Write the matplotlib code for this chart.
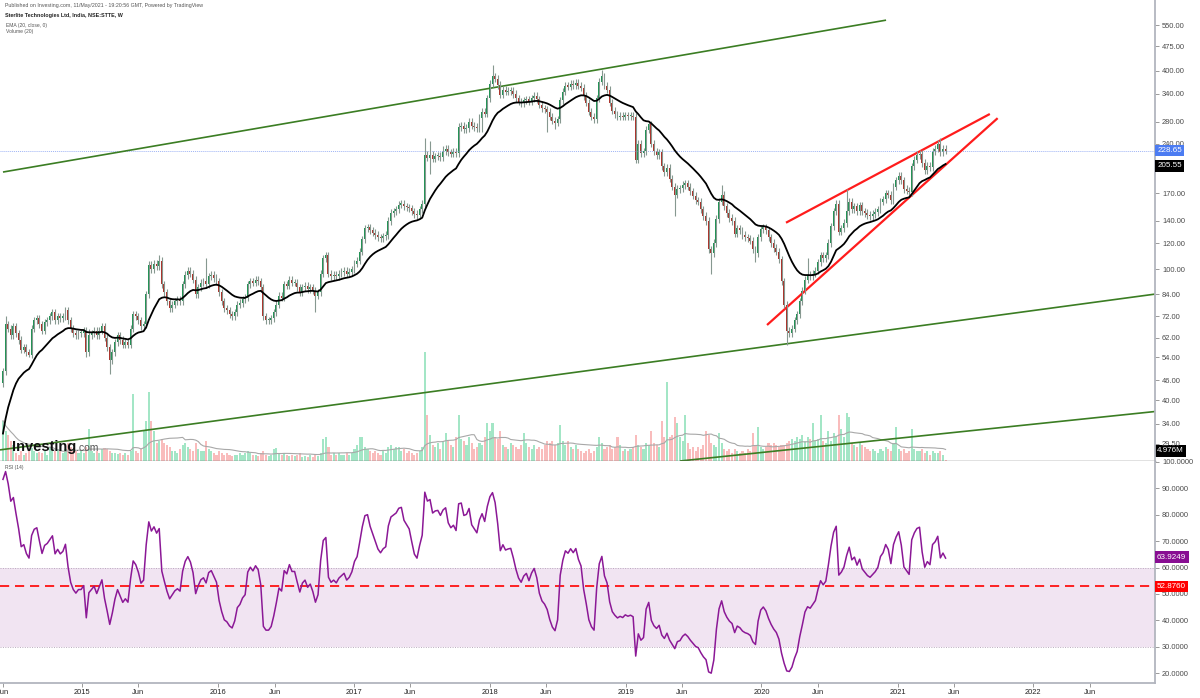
import numpy as np
import pandas as pd
import matplotlib
matplotlib.use('Agg')
import matplotlib.pyplot as plt
import matplotlib.dates as mdates
import matplotlib.transforms as mtransforms
from matplotlib.ticker import FixedLocator, FixedFormatter, NullLocator

plt.rcParams['font.family'] = ['Liberation Sans', 'DejaVu Sans']

# ---------------- data (weekly) ----------------
start_date = '2014-06-02'
# weeks before the visible window (only used to warm up EMA / RSI)
pre_closes = [18, 18.5, 19, 18, 19.5, 20, 19.5, 21, 22, 21.5, 22, 23, 22.5, 24, 25,
              24, 26, 27, 28, 30, 29, 32, 35, 38, 42, 45]

closes = [
    49, 68, 66, 63, 67, 64, 61, 57, 58, 56,
    55, 66, 70, 71, 68, 65, 69, 70, 72, 74,
    70, 72, 71, 72, 75, 70, 66, 64, 63, 64,
    64, 65, 56, 63, 64, 65, 63, 65, 67, 62,
    58, 53, 56, 60, 63, 61, 59, 60, 59, 66,
    73, 72, 70, 67, 68, 84, 103, 100, 104, 102,
    106, 90, 85, 80, 76, 78, 80, 81, 80, 90,
    96, 99, 97, 93, 84, 88, 91, 92, 90, 95,
    96, 94, 92, 85, 80, 76, 75, 73, 72, 74,
    78, 79, 81, 82, 90, 92, 91, 93, 92, 88,
    72, 70, 70, 71, 74, 78, 83, 82, 90, 89,
    93, 91, 91, 88, 85, 88, 89, 87, 88, 86,
    83, 85, 97, 108, 110, 97, 95, 96, 95, 97,
    98, 99, 97, 98, 100, 104, 106, 113, 123, 133,
    134, 131, 129, 127, 125, 124, 126, 127, 140, 148,
    150, 152, 157, 158, 155, 154, 153, 150, 147, 146,
    152, 158, 222, 218, 222, 216, 220, 221, 219, 228,
    232, 226, 224, 227, 225, 270, 272, 266, 268, 280,
    272, 270, 268, 288, 300, 296, 330, 365, 385, 378,
    362, 338, 350, 345, 347, 348, 340, 330, 322, 318,
    325, 328, 322, 330, 335, 328, 315, 308, 305, 300,
    290, 282, 278, 285, 325, 345, 360, 358, 365, 362,
    368, 360, 355, 335, 320, 300, 290, 285, 330, 370,
    385, 360, 350, 320, 302, 295, 290, 292, 290, 293,
    291, 292, 290, 215, 240, 225, 228, 265, 275, 240,
    228, 222, 226, 205, 197, 203, 188, 178, 168, 175,
    176, 180, 182, 178, 172, 167, 162, 160, 152, 145,
    140, 115, 112, 120, 142, 160, 168, 155, 148, 143,
    140, 128, 133, 131, 127, 125, 124, 122, 115, 112,
    125, 132, 134, 131, 125, 120, 116, 113, 107, 92,
    78, 65, 64, 66, 70, 73, 80, 86, 93, 96,
    95, 97, 99, 105, 110, 108, 110, 120, 135, 150,
    158, 130, 133, 138, 150, 160, 152, 155, 150, 156,
    150, 148, 146, 145, 147, 149, 152, 160, 163, 170,
    168, 162, 178, 186, 192, 186, 175, 173, 171, 205,
    215, 222, 224, 210, 200, 206, 204, 228, 232, 240,
    226, 232, 228.65]

# volume in millions
volumes = [
    20, 15, 13, 10, 8, 4, 3, 5, 3, 4,
    6, 6.5, 5, 4, 4.5, 4, 5, 3, 7, 5,
    5, 6, 5, 4, 6, 9, 7, 6, 5, 4,
    5, 4, 7, 16, 5, 4, 5, 4, 6, 6.5,
    6, 5, 4, 4, 3.5, 4, 3, 4, 3, 5,
    33, 5, 4, 6, 15, 20, 34, 20, 15, 9,
    10, 11, 9, 8, 7, 5, 5, 4, 6, 8,
    9, 7, 6, 5, 9, 6, 5, 5, 10, 6,
    5, 4, 3, 5, 4, 3, 4, 3, 2.5, 3,
    3, 4, 3, 4, 5, 4, 3, 3, 2.5, 4,
    5, 3, 2.5, 3, 6, 6.5, 4, 3, 4, 3,
    2.5, 3, 2.5, 3, 4, 2, 2.5, 2, 3, 2,
    3, 2.5, 4, 11, 12, 7, 3, 4, 3, 4,
    3, 3, 4, 3, 4, 6, 8, 12, 12, 7,
    6, 5, 4, 5, 4, 3, 5, 4, 7, 8,
    6, 7, 7, 5, 6, 4, 5, 4, 3, 4,
    5, 7, 54, 23, 13, 8, 7, 9, 6, 10,
    14, 10, 8, 7, 12, 23, 11, 10, 8, 12,
    9, 6, 7, 9, 8, 12, 19, 15, 19, 12,
    11, 15, 8, 7, 6, 9, 8, 7, 6, 8,
    14, 9, 7, 6, 8, 6, 7, 6, 8, 10,
    9, 10, 8, 9, 18, 10, 8, 10, 7, 6,
    8, 6, 5, 4, 5, 6, 4, 5, 7, 12,
    9, 6, 7, 8, 6, 7, 12, 8, 5, 6,
    5, 6, 7, 13, 8, 7, 6, 9, 8, 15,
    9, 8, 7, 20, 12, 39, 12, 13, 22, 19,
    12, 10, 23, 9, 6, 7, 5, 7, 6, 8,
    15, 13, 9, 8, 7, 14, 9, 6, 5, 6,
    4, 6, 5, 4, 5, 4, 6, 5, 14, 8,
    17, 7, 6, 7, 9, 8, 9, 8, 7, 8,
    8, 9, 10, 11, 10, 12, 11, 13, 10, 12,
    11, 19, 10, 11, 23, 10, 9, 15, 10, 14,
    12, 23, 16, 12, 24, 22, 9, 8, 7, 9,
    8, 7, 6, 5, 6, 5, 4, 6, 5, 7,
    6, 5, 9, 17, 6, 5, 6, 4, 5, 16,
    6, 5, 5, 6, 4, 5, 3, 5, 4, 4,
    5, 3, 0.5]

# notable wicks (week index -> price)
high_wicks = {1: 72, 33: 66, 60: 110, 78: 108, 162: 250, 164: 245, 169: 236,
              188: 415, 230: 402, 276: 180, 309: 108, 320: 162, 324: 175, 360: 250}
low_wicks = {10: 54, 32: 54, 41: 48, 120: 74, 164: 195, 184: 260, 209: 260,
             212: 266, 258: 145, 272: 97, 289: 105, 301: 59}

# drawn trend lines: (date, price)
green_top = [('2014-06-02', 197.0), ('2020-12-01', 569.0)]
green_mid = [('2014-05-25', 28.3), ('2022-11-24', 84.0)]
green_low = [('2019-05-27', 26.19), ('2022-11-24', 37.0)]
red_top = [('2020-03-07', 138.3), ('2021-09-06', 295.5)]
red_bottom = [('2020-01-16', 67.7), ('2021-09-27', 287.0)]
rsi_level = 52.876

price_ticks = [550, 475, 400, 340, 280, 240, 200, 170, 140, 120, 100, 84, 72, 62,
               54, 46, 40, 34, 29.5]
rsi_ticks = [100, 90, 80, 70, 60, 50, 40, 30, 20]
last_close_label = '228.65'
ema_label_value = 205.55
vol_ma_label_value = 4.976
rsi_label_value = 63.9249

# ---------------- indicators ----------------
dates = pd.date_range(start_date, periods=len(closes), freq='7D')
allc = pd.Series(pre_closes + closes, dtype=float)
npre = len(pre_closes)
ema = allc.ewm(span=20, adjust=False).mean().values[npre:]
d = allc.diff()
gain = d.clip(lower=0)
loss = -d.clip(upper=0)
ag = gain.ewm(alpha=1 / 14, adjust=False).mean()
al = loss.ewm(alpha=1 / 14, adjust=False).mean()
rsi = (100 - 100 / (1 + ag / al)).values[npre:]
opens = [pre_closes[-1]] + closes[:-1]
vol_ma = pd.Series(volumes).rolling(20, min_periods=1).mean().values

up = np.array(closes) >= np.array(opens)

# ---------------- figure ----------------
W, H = 1200, 698
fig = plt.figure(figsize=(W / 100, H / 100), dpi=100)


def rect(x0, y0, x1, y1):
    return [x0 / W, 1 - y1 / H, (x1 - x0) / W, (y1 - y0) / H]


vax = fig.add_axes(rect(0, 0, 1155, 461))
ax = fig.add_axes(rect(0, 0, 1155, 461), sharex=vax)
rax = fig.add_axes(rect(0, 461, 1155, 683), sharex=vax)
ax.patch.set_visible(False)

xmin, xmax = pd.Timestamp('2014-05-25'), pd.Timestamp('2022-11-24')
vax.set_xlim(xmin, xmax)

# volume
vcol = np.where(up, '#a3e6c6', '#f9bcbc')
vax.bar(dates, volumes, width=5.6, color=vcol, linewidth=0)
vax.plot(dates, vol_ma, color='#a8a8a8', lw=0.8)
vax.set_ylim(0, max(volumes) * 461 / 109)
vax.axis('off')

# price
ax.set_yscale('log')
ax.set_ylim(26.19, 655)
ax.axhline(float(last_close_label), color='#9fb4f5', lw=0.7, ls=(0, (1, 1)))
for seg, c, lw in [(green_top, '#3b7d23', 1.2), (green_mid, '#3b7d23', 1.2),
                   (green_low, '#3b7d23', 1.2), (red_top, '#ff1c1c', 1.6),
                   (red_bottom, '#ff1c1c', 1.6)]:
    ax.plot([pd.Timestamp(s[0]) for s in seg], [s[1] for s in seg], color=c, lw=lw,
            solid_capstyle='butt')

hi = [max(o, c) for o, c in zip(opens, closes)]
lo = [min(o, c) for o, c in zip(opens, closes)]
whi = [high_wicks.get(i, hi[i] * 1.025) for i in range(len(closes))]
wlo = [low_wicks.get(i, lo[i] * 0.975) for i in range(len(closes))]
ax.vlines(dates, wlo, whi, color='#869890', lw=0.8)
bh = [max(h - l, h * 0.008) for h, l in zip(hi, lo)]
ax.bar(dates, bh, bottom=lo, width=5.2, color=np.where(up, '#1f9353', '#ad3129'),
       linewidth=0)
ax.plot(dates, ema, color='black', lw=1.3)

ax.yaxis.tick_right()
ax.yaxis.set_major_locator(FixedLocator(price_ticks))
ax.yaxis.set_major_formatter(FixedFormatter(['%.2f' % t for t in price_ticks]))
ax.yaxis.set_minor_locator(NullLocator())
ax.tick_params(axis='y', which='both', direction='out', length=3, width=0.6,
               color='#8a8a8a', labelsize=5.4, labelcolor='#4a4a4a', pad=2)
ax.tick_params(axis='x', which='both', bottom=False, labelbottom=False)
for s in ['top', 'left']:
    ax.spines[s].set_visible(False)
ax.spines['right'].set_color('#b2b5be')
ax.spines['right'].set_linewidth(1.3)
ax.spines['bottom'].set_color('#6a6a6a')
ax.spines['bottom'].set_linewidth(1.0)

# RSI
rax.set_ylim(16.3, 100.3)
rax.axhspan(30, 60, color='#f1e4f2', lw=0)
for lv in (30, 60):
    rax.axhline(lv, color='#b9a9bd', lw=0.7, ls=(0, (1, 1.5)))
rax.axhline(rsi_level, color='#ff0000', lw=1.2, dashes=(5.5, 3.5))
rax.plot(dates, rsi, color='#8b1896', lw=1.1)
rax.yaxis.tick_right()
rax.yaxis.set_major_locator(FixedLocator(rsi_ticks))
rax.yaxis.set_major_formatter(FixedFormatter(['%.4f' % t for t in rsi_ticks]))
rax.tick_params(axis='y', direction='out', length=3, width=0.6, color='#8a8a8a',
                labelsize=5.4, labelcolor='#4a4a4a', pad=2)
for s in ['top', 'left']:
    rax.spines[s].set_visible(False)
for s in ['right', 'bottom']:
    rax.spines[s].set_color('#b2b5be')
    rax.spines[s].set_linewidth(1.3)

xt, xl = [], []
for y in range(2014, 2023):
    if y >= 2015:
        xt.append(pd.Timestamp(f'{y}-01-01'))
        xl.append(str(y))
    xt.append(pd.Timestamp(f'{y}-06-01'))
    xl.append('Jun')
order = np.argsort([t.value for t in xt])
xt = [xt[i] for i in order]
xl = [xl[i] for i in order]
rax.xaxis.set_major_locator(FixedLocator(mdates.date2num(xt)))
rax.xaxis.set_major_formatter(FixedFormatter(xl))
rax.xaxis.set_minor_locator(NullLocator())
rax.tick_params(axis='x', direction='out', length=3, width=0.6, color='#8a8a8a',
                labelsize=5.4, labelcolor='#222222', pad=1.5)
vax.tick_params(axis='x', labelbottom=False)

# right-side value labels
def tag(axis, yval, text, fc):
    tr = mtransforms.blended_transform_factory(axis.transAxes, axis.transData)
    axis.text(1.0018, yval, text, transform=tr, ha='left', va='center', fontsize=5.8,
              color='white', zorder=10, clip_on=False,
              bbox=dict(boxstyle='square,pad=0.28', fc=fc, ec='none'))

tag(ax, float(last_close_label), last_close_label, '#4c7cf2')
tag(ax, ema_label_value, '%.2f' % ema_label_value, '#000000')
tag(vax, vol_ma_label_value, '%.3fM' % vol_ma_label_value, '#000000')
tag(rax, rsi_label_value, '%.4f' % rsi_label_value, '#880e92')
tag(rax, rsi_level, '%.4f' % rsi_level, '#ff0000')

# header texts
fig.text(5 / W, 1 - 6 / H, 'Published on Investing.com, 11/May/2021 - 19:20:56 GMT, Powered by TradingView',
         fontsize=3.8, color='#555555', va='center')
fig.text(5 / W, 1 - 15 / H, 'Sterlite Technologies Ltd, India, NSE:STTE, W', fontsize=3.9,
         fontweight='bold', color='#222222', va='center')
fig.text(6 / W, 1 - 26 / H, 'EMA (20, close, 0)', fontsize=3.6, color='#555555', va='center')
fig.text(6 / W, 1 - 32 / H, 'Volume (20)', fontsize=3.6, color='#555555', va='center')
fig.text(5 / W, 1 - 468 / H, 'RSI (14)', fontsize=3.6, color='#555555', va='center')

# watermark logo
fig.text(12 / W, 1 - 451 / H, 'Investing', fontsize=10.5, fontweight='bold', color='#111111',
         va='baseline', zorder=20)
fig.text(76 / W, 1 - 451 / H, '.com', fontsize=7.5, color='#555555', va='baseline', zorder=20)

fig.savefig('out.png', dpi=100)
